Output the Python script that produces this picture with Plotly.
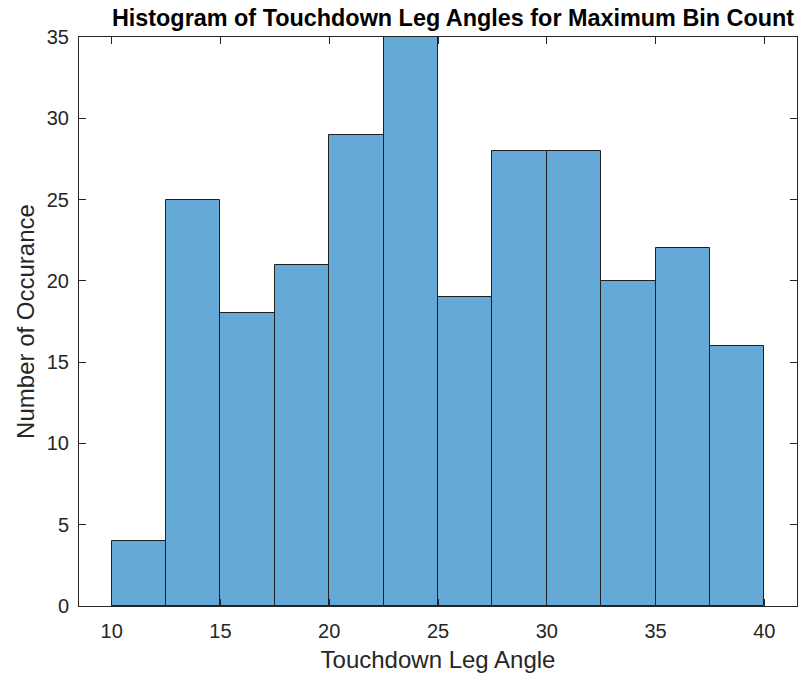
import plotly.graph_objects as go

bin_edges = [10, 12.5, 15, 17.5, 20, 22.5, 25, 27.5, 30, 32.5, 35, 37.5, 40]
counts = [4, 25, 18, 21, 29, 35, 19, 28, 28, 20, 22, 16]
x_ticks = [10, 15, 20, 25, 30, 35, 40]
y_ticks = [0, 5, 10, 15, 20, 25, 30, 35]

centers = [(a + b) / 2 for a, b in zip(bin_edges[:-1], bin_edges[1:])]
widths = [b - a for a, b in zip(bin_edges[:-1], bin_edges[1:])]

fig = go.Figure(go.Bar(
    x=centers, y=counts, width=widths,
    marker=dict(color="#65AAD7", line=dict(color="#1f1f1f", width=1)),
))

FONT = "Liberation Sans, Arial"
axis_common = dict(
    showgrid=False, zeroline=False, showline=True, linecolor="#262626", linewidth=1,
    mirror="ticks", ticks="inside", ticklen=7, tickcolor="#262626",
    tickfont=dict(family=FONT, size=20, color="#262626"),
)

fig.update_layout(
    width=802, height=681,
    margin=dict(l=79, r=5, t=37, b=75),
    paper_bgcolor="white", plot_bgcolor="white",
    title=dict(text="<b>Histogram of Touchdown Leg Angles for Maximum Bin Count</b>",
               x=453 / 802, xanchor="center", y=1 - 18 / 681, yanchor="middle",
               font=dict(family=FONT, size=23.4, color="black")),
    xaxis=dict(range=[8.5, 41.5], tickvals=x_ticks, ticklabelstandoff=7,
               title=dict(text="Touchdown Leg Angle", standoff=10,
                          font=dict(family=FONT, size=24, color="#262626")),
               **axis_common),
    yaxis=dict(range=[0, 35], tickvals=y_ticks, ticklabelstandoff=5,
               title=dict(text="Number of Occurance", standoff=5,
                          font=dict(family=FONT, size=24, color="#262626")),
               **axis_common),
    showlegend=False,
    bargap=0,
)

fig.write_html("out.html")
